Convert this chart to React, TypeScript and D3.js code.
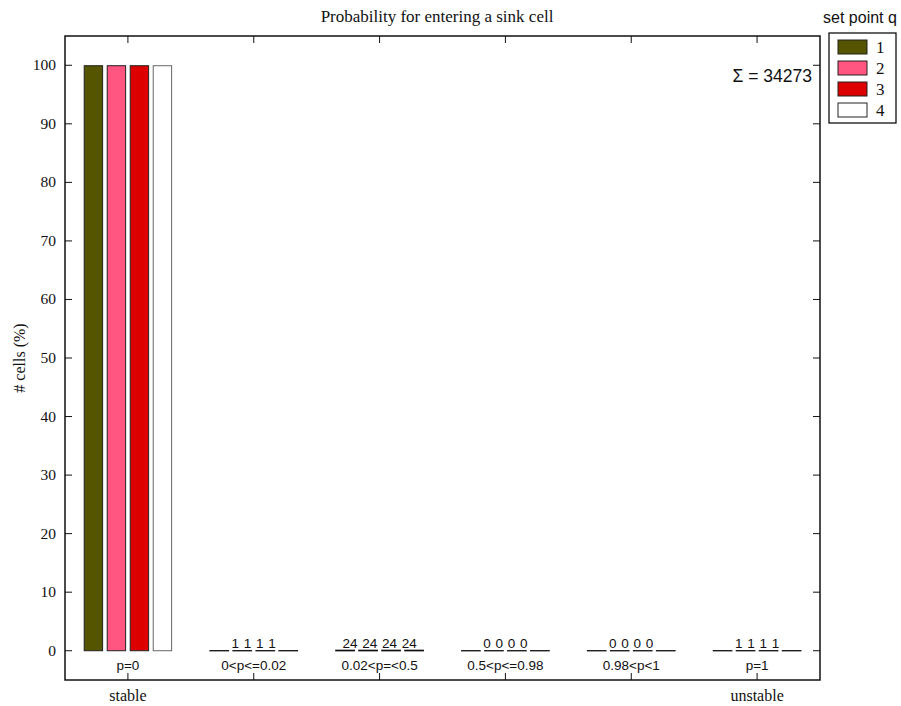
import React from "react";
import * as d3 from "d3";

// Probability classes for entering a sink cell
const categories = ["p=0", "0<p<=0.02", "0.02<p=<0.5", "0.5<p<=0.98", "0.98<p<1", "p=1"];
const endLabels = ["stable", "", "", "", "", "unstable"];

// Set points q and the number of cells falling into each class
const setPoints = ["1", "2", "3", "4"];
const countsQ1 = [34247, 1, 24, 0, 0, 1];
const countsQ2 = [34247, 1, 24, 0, 0, 1];
const countsQ3 = [34247, 1, 24, 0, 0, 1];
const countsQ4 = [34247, 1, 24, 0, 0, 1];
const seriesCounts = [countsQ1, countsQ2, countsQ3, countsQ4];
const totalCells = 34273;

const yTicks = [0, 10, 20, 30, 40, 50, 60, 70, 80, 90, 100];
const seriesColors = ["#555500", "#ff5580", "#dd0000", "#ffffff"];
const seriesStrokes = ["#222", "#222", "#222", "#666"];

const W = 901;
const H = 706;
const plot = { left: 65, right: 820, top: 36, bottom: 680 };

export default function App() {
  const x = d3.scaleBand<string>().domain(categories).range([plot.left, plot.right]).padding(0);
  const bw = x.bandwidth();
  const xInner = d3
    .scaleBand<string>()
    .domain(setPoints)
    .range([0, bw])
    .paddingInner(0.2)
    .paddingOuter(0.835);
  const y = d3.scaleLinear().domain([-5, 105]).range([plot.bottom, plot.top]);

  const pct = (c: number) => (c / totalCells) * 100;

  const serif = "'Liberation Serif', 'Times New Roman', serif";
  const sans = "'Liberation Sans', Arial, sans-serif";

  return (
    <svg
      width={W}
      height={H}
      style={{ position: "absolute", left: 0, top: 0, background: "#fff" }}
    >
      <rect x={0} y={0} width={W} height={H} fill="#fff" />

      {/* title */}
      <text x={437} y={22} textAnchor="middle" fontFamily={serif} fontSize={17} fill="#111">
        Probability for entering a sink cell
      </text>

      {/* bars; flat bars keep a hairline height so their outline shows */}
      {categories.map((cat, ci) => (
        <g key={cat} transform={`translate(${x(cat)},0)`}>
          {setPoints.map((sp, si) => {
            const v = pct(seriesCounts[si][ci]);
            const y0 = y(0);
            const y1 = y(v);
            const h = Math.max(Math.abs(y0 - y1), 0.01);
            return (
              <rect
                key={sp}
                x={xInner(sp)}
                y={Math.min(y0, y1)}
                width={xInner.bandwidth()}
                height={h}
                fill={seriesColors[si]}
                stroke={v > 1 ? seriesStrokes[si] : "#111"}
                strokeWidth={v > 1 ? 1 : 1.3}
              />
            );
          })}
        </g>
      ))}

      {/* cell counts for the small classes */}
      {categories.map((cat, ci) => {
        const small = seriesCounts.every((s) => pct(s[ci]) < 1);
        if (!small) return null;
        return (
          <text
            key={cat}
            x={(x(cat) as number) + bw / 2}
            y={y(0) - 3}
            textAnchor="middle"
            fontFamily={sans}
            fontSize={13.5}
            wordSpacing={1}
            fill="#111"
          >
            {seriesCounts.map((s) => s[ci]).join(" ")}
          </text>
        );
      })}

      {/* class labels */}
      {categories.map((cat) => (
        <text
          key={cat}
          x={(x(cat) as number) + bw / 2}
          y={670}
          textAnchor="middle"
          fontFamily={sans}
          fontSize={13.5}
          fill="#111"
        >
          {cat}
        </text>
      ))}

      {/* frame */}
      <rect
        x={plot.left}
        y={plot.top}
        width={plot.right - plot.left}
        height={plot.bottom - plot.top}
        fill="none"
        stroke="#111"
        strokeWidth={1.5}
      />

      {/* y ticks, mirrored */}
      {yTicks.map((t) => (
        <g key={t}>
          <line x1={plot.left} x2={plot.left + 7} y1={y(t)} y2={y(t)} stroke="#111" strokeWidth={1} />
          <line x1={plot.right} x2={plot.right - 7} y1={y(t)} y2={y(t)} stroke="#111" strokeWidth={1} />
          <text
            x={plot.left - 9}
            y={y(t) + 5}
            textAnchor="end"
            fontFamily={serif}
            fontSize={15.5}
            fill="#111"
          >
            {t}
          </text>
        </g>
      ))}

      {/* x ticks, mirrored */}
      {categories.map((cat, ci) => {
        const cx = (x(cat) as number) + bw / 2;
        return (
          <g key={cat}>
            <line x1={cx} x2={cx} y1={plot.bottom} y2={plot.bottom - 7} stroke="#111" strokeWidth={1} />
            <line x1={cx} x2={cx} y1={plot.top} y2={plot.top + 7} stroke="#111" strokeWidth={1} />
            {endLabels[ci] && (
              <text x={cx} y={701} textAnchor="middle" fontFamily={serif} fontSize={16} fill="#111">
                {endLabels[ci]}
              </text>
            )}
          </g>
        );
      })}

      {/* y axis title */}
      <text
        transform={`translate(25,${(plot.top + plot.bottom) / 2}) rotate(-90)`}
        textAnchor="middle"
        fontFamily={serif}
        fontSize={16}
        fill="#111"
      >
        # cells (%)
      </text>

      {/* total */}
      <text x={812} y={82} textAnchor="end" fontFamily={sans} fontSize={17.5} fill="#111">
        {`Σ = ${totalCells}`}
      </text>

      {/* legend */}
      <text x={860} y={23} textAnchor="middle" fontFamily={sans} fontSize={16} fill="#111">
        set point q
      </text>
      <rect x={829} y={33} width={67} height={90} fill="#fff" stroke="#111" strokeWidth={1.3} />
      {setPoints.map((sp, si) => (
        <g key={sp} transform={`translate(838,${40 + si * 21})`}>
          <rect width={29} height={14} fill={seriesColors[si]} stroke="#222" strokeWidth={1} />
          <text x={38} y={12.5} fontFamily={serif} fontSize={17} fill="#111">
            {sp}
          </text>
        </g>
      ))}
    </svg>
  );
}
